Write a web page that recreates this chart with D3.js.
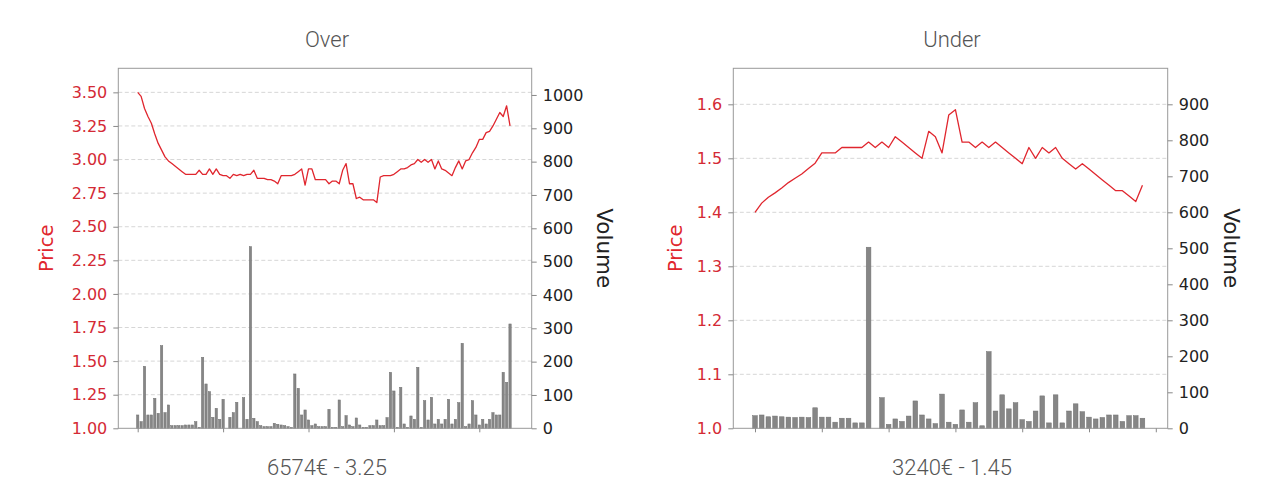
<!DOCTYPE html>
<html><head><meta charset="utf-8">
<script src="https://cdn.jsdelivr.net/npm/d3@7"></script>
<style>body{margin:0;background:#fff;} svg{display:block}</style>
</head><body><svg id="c" width="1280" height="487"></svg>
<script>
// ---- data ----
const titles = ["Over", "Under"];
const captions = ["6574€ - 3.25", "3240€ - 1.45"];

const overPrice = [3.50,3.47,3.38,3.32,3.27,3.19,3.12,3.07,3.02,2.99,
  2.97,2.95,2.93,2.91,2.89,2.89,2.89,2.89,2.92,2.89,
  2.89,2.93,2.89,2.93,2.89,2.88,2.88,2.86,2.89,2.88,
  2.89,2.88,2.89,2.89,2.92,2.86,2.86,2.86,2.85,2.85,
  2.84,2.82,2.88,2.88,2.88,2.88,2.89,2.91,2.93,2.81,
  2.93,2.93,2.85,2.85,2.85,2.85,2.82,2.84,2.84,2.82,
  2.92,2.97,2.82,2.82,2.71,2.72,2.70,2.70,2.70,2.70,
  2.68,2.87,2.88,2.88,2.88,2.89,2.91,2.93,2.93,2.94,
  2.96,2.97,3.00,2.98,3.00,2.98,3.00,2.93,2.99,2.93,
  2.92,2.90,2.88,2.94,2.99,2.93,2.99,3.00,3.05,3.09,
  3.15,3.15,3.20,3.21,3.25,3.30,3.35,3.32,3.40,3.25];
const overVolume = [40,20,186,40,40,90,45,248,47,70,
  8,8,8,8,10,10,10,20,3,213,
  133,110,33,60,27,87,0,33,47,78,
  0,92,27,545,30,20,8,5,5,5,
  15,12,10,8,5,3,163,120,40,55,
  25,8,13,5,5,5,57,3,3,85,
  5,38,10,5,31,10,3,3,8,8,
  25,8,8,32,168,112,3,123,13,3,
  37,27,183,3,83,25,93,13,27,13,
  27,87,13,27,77,255,5,13,83,40,
  10,27,13,27,47,40,40,168,138,313];

const underPrice = [1.40,1.417,1.428,1.436,1.445,1.455,1.463,1.471,1.481,1.491,
  1.51,1.51,1.51,1.52,1.52,1.52,1.52,1.53,1.52,1.53,
  1.52,1.54,1.53,1.52,1.51,1.50,1.55,1.54,1.51,1.58,
  1.59,1.53,1.53,1.52,1.53,1.52,1.53,1.52,1.51,1.50,
  1.49,1.52,1.50,1.52,1.51,1.52,1.50,1.49,1.48,1.49,
  1.48,1.47,1.46,1.45,1.44,1.44,1.43,1.42,1.45];
const underVolume = [35,37,32,34,32,31,30,31,30,57,
  31,31,17,28,28,15,15,503,0,85,
  11,26,19,34,76,37,26,13,95,17,
  11,51,17,71,7,213,48,93,54,71,
  24,19,48,90,15,93,15,48,68,46,
  31,26,30,37,37,19,35,35,28];

const overPriceTicks = [1.00,1.25,1.50,1.75,2.00,2.25,2.50,2.75,3.00,3.25,3.50];
const overVolumeTicks = [0,100,200,300,400,500,600,700,800,900,1000];
const underPriceTicks = [1.0,1.1,1.2,1.3,1.4,1.5,1.6];
const underVolumeTicks = [0,100,200,300,400,500,600,700,800,900];
const overXTicks = [0,25,50,75,100];
const underXTicks = [0,10,20,30,40,50,60];

// ---- drawing ----
const svg = d3.select("#c");
svg.append("rect").attr("width",1280).attr("height",487).attr("fill","#fff");

const RED = "#e0262e";
const TICKRED = "#d42a35";

const panels = [
  {title:titles[0], caption:captions[0], centerX:327,
   left:118.3, right:531.7, top:68.3, bottom:428.3,
   xDomain:[-5.68,115.34], pDomain:[1,3.679], vDomain:[0,1080],
   price:overPrice, volume:overVolume, pTicks:overPriceTicks, vTicks:overVolumeTicks,
   xTicks:overXTicks, pFmt:".2f", barFrac:0.68, priceLabelX:46, volLabelX:604},
  {title:titles[1], caption:captions[1], centerX:952,
   left:733.3, right:1167.7, top:68.3, bottom:428.3,
   xDomain:[-3.25,61.78], pDomain:[1,1.6667], vDomain:[0,1000],
   price:underPrice, volume:underVolume, pTicks:underPriceTicks, vTicks:underVolumeTicks,
   xTicks:underXTicks, pFmt:".1f", barFrac:0.7, priceLabelX:675, volLabelX:1231}
];

panels.forEach(cfg => {
  const x = d3.scaleLinear().domain(cfg.xDomain).range([cfg.left, cfg.right]);
  const yP = d3.scaleLinear().domain(cfg.pDomain).range([cfg.bottom, cfg.top]);
  const yV = d3.scaleLinear().domain(cfg.vDomain).range([cfg.bottom, cfg.top]);
  const g = svg.append("g");

  // grid
  g.selectAll("line.grid").data(cfg.pTicks.slice(1)).join("line")
    .attr("x1", cfg.left).attr("x2", cfg.right)
    .attr("y1", d => yP(d)).attr("y2", d => yP(d))
    .attr("stroke", "#d6d6d6").attr("stroke-width", 1).attr("stroke-dasharray", "4,2.5");

  // bars
  const step = x(1) - x(0);
  const bw = step * cfg.barFrac;
  g.selectAll("rect.bar").data(cfg.volume).join("rect")
    .attr("x", (d,i) => x(i) - bw/2).attr("width", bw)
    .attr("y", d => yV(d)).attr("height", d => yV(0) - yV(d))
    .attr("fill", "#868686").attr("stroke", "#707070").attr("stroke-width", 0.5);

  // price line
  const line = d3.line().x((d,i) => x(i)).y(d => yP(d));
  g.append("path").datum(cfg.price).attr("d", line)
    .attr("fill", "none").attr("stroke", RED).attr("stroke-width", 1.3)
    .attr("stroke-linejoin", "round");

  // frame
  g.append("rect").attr("x", cfg.left).attr("y", cfg.top)
    .attr("width", cfg.right - cfg.left).attr("height", cfg.bottom - cfg.top)
    .attr("fill", "none").attr("stroke", "#999").attr("stroke-width", 1);

  // axes
  const axL = g.append("g").attr("transform", `translate(${cfg.left},0)`)
    .call(d3.axisLeft(yP).tickValues(cfg.pTicks).tickFormat(d3.format(cfg.pFmt)).tickSize(5).tickPadding(6));
  axL.select(".domain").remove();
  axL.selectAll("line").attr("stroke", "#888");
  axL.selectAll("text").attr("fill", TICKRED).attr("font-family", "DejaVu Sans").attr("font-size", 16);

  const axR = g.append("g").attr("transform", `translate(${cfg.right},0)`)
    .call(d3.axisRight(yV).tickValues(cfg.vTicks).tickFormat(d3.format("d")).tickSize(5).tickPadding(6));
  axR.select(".domain").remove();
  axR.selectAll("line").attr("stroke", "#888");
  axR.selectAll("text").attr("fill", "#222").attr("font-family", "DejaVu Sans").attr("font-size", 16);

  const axB = g.append("g").attr("transform", `translate(0,${cfg.bottom})`)
    .call(d3.axisBottom(x).tickValues(cfg.xTicks).tickFormat("").tickSize(4));
  axB.select(".domain").remove();
  axB.selectAll("line").attr("stroke", "#888");

  // axis labels
  const midY = (cfg.top + cfg.bottom) / 2;
  g.append("text").attr("transform", `translate(${cfg.priceLabelX},${midY}) rotate(-90)`)
    .attr("text-anchor", "middle").attr("dominant-baseline", "central")
    .attr("font-family", "DejaVu Sans").attr("font-size", 19.5).attr("fill", RED).text("Price");
  g.append("text").attr("transform", `translate(${cfg.volLabelX},${midY}) rotate(90)`)
    .attr("text-anchor", "middle").attr("dominant-baseline", "central")
    .attr("font-family", "DejaVu Sans").attr("font-size", 21.5).attr("fill", "#222").text("Volume");

  // title & caption
  svg.append("text").attr("x", cfg.centerX).attr("y", 47).attr("text-anchor", "middle")
    .attr("font-family", "Roboto").attr("font-weight", 300).attr("font-size", 22).attr("fill", "#555").text(cfg.title);
  svg.append("text").attr("x", cfg.centerX).attr("y", 475).attr("text-anchor", "middle")
    .attr("font-family", "Roboto").attr("font-weight", 300).attr("font-size", 22).attr("fill", "#555").text(cfg.caption);
});
</script>
</body></html>
